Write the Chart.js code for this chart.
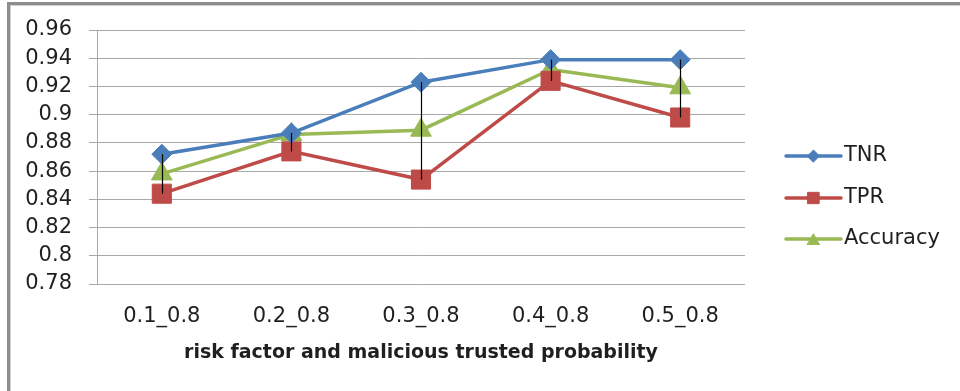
<!DOCTYPE html>
<html>
<head>
<meta charset="utf-8">
<script src="https://cdn.jsdelivr.net/npm/chart.js@4/dist/chart.umd.min.js"></script>
<style>
  html, body { margin: 0; padding: 0; background: #fff; }
  #wrap { position: relative; width: 960px; height: 391px; overflow: hidden; }
  #frame {
    position: absolute; left: 7px; top: 2px; width: 1000px; height: 450px;
    border-left: 3px solid #8c8c8c; border-top: 3px solid #8c8c8c;
    box-shadow: inset 1px 1px 0 #d0d0d0;
  }
  canvas { position: absolute; left: 0; top: 0; }
</style>
</head>
<body>
<div id="wrap">
  <div id="frame"></div>
  <canvas id="c" width="960" height="391"></canvas>
</div>
<script>
// Detection results per parameter pair
const categories = ['0.1_0.8', '0.2_0.8', '0.3_0.8', '0.4_0.8', '0.5_0.8'];
const tnr      = [0.872, 0.887, 0.923, 0.939, 0.939];
const tpr      = [0.844, 0.874, 0.854, 0.924, 0.898];
const accuracy = [0.858, 0.886, 0.889, 0.932, 0.919];
const yTicks   = [0.78, 0.8, 0.82, 0.84, 0.86, 0.88, 0.9, 0.92, 0.94, 0.96];
const xTitle   = 'risk factor and malicious trusted probability';

const FONT = "'DejaVu Sans', sans-serif";
const TEXT = '#1f1f1f';

const series = [
  { label: 'TNR', data: tnr, color: '#4A7EBB', style: 'rectRot', radius: 10, legendRadius: 6 },
  { label: 'TPR', data: tpr, color: '#BE4B48', style: 'rect', radius: 13.5, legendRadius: 8 },
  { label: 'Accuracy', data: accuracy, color: '#98B954', style: 'triangle', radius: 12, legendRadius: 7 }
];

// Black high-low lines joining the highest and lowest value of each category
const highLowLines = {
  id: 'highLowLines',
  afterDatasetsDraw(chart) {
    const { ctx, scales: { x, y } } = chart;
    ctx.save();
    ctx.strokeStyle = '#000';
    ctx.lineWidth = 1.2;
    categories.forEach((c, i) => {
      const vals = series.map(s => s.data[i]);
      const px = Math.round(x.getPixelForValue(i)) + 0.5;
      ctx.beginPath();
      ctx.moveTo(px, y.getPixelForValue(Math.max(...vals)));
      ctx.lineTo(px, y.getPixelForValue(Math.min(...vals)));
      ctx.stroke();
    });
    ctx.restore();
  }
};

// Legend on the right: line sample with marker, then the series name
const sideLegend = {
  id: 'sideLegend',
  afterDraw(chart) {
    const { ctx } = chart;
    const x0 = 786, x1 = 841, tx = 844;
    const rows = [156, 198, 239];
    ctx.save();
    series.forEach((s, i) => {
      const yy = rows[i];
      ctx.strokeStyle = s.color;
      ctx.lineWidth = 3.5;
      ctx.lineCap = 'round';
      ctx.beginPath();
      ctx.moveTo(x0, yy);
      ctx.lineTo(x1, yy);
      ctx.stroke();
      ctx.fillStyle = s.color;
      ctx.lineWidth = 1;
      Chart.helpers.drawPoint(ctx, { pointStyle: s.style, radius: s.legendRadius, borderWidth: 1 }, (x0 + x1) / 2, yy + (s.style === 'triangle' ? 2 : 0));
      ctx.fillStyle = TEXT;
      ctx.font = '21px ' + FONT;
      ctx.textBaseline = 'middle';
      ctx.textAlign = 'left';
      ctx.fillText(s.label, tx, yy);
    });
    ctx.restore();
  }
};

new Chart(document.getElementById('c'), {
  type: 'line',
  data: {
    labels: categories,
    datasets: series.map(s => ({
      label: s.label,
      data: s.data,
      borderColor: s.color,
      backgroundColor: s.color,
      borderWidth: 3.5,
      pointStyle: s.style,
      pointRadius: s.radius,
      pointHoverRadius: s.radius,
      pointBackgroundColor: s.color,
      pointBorderColor: s.color,
      pointBorderWidth: 1,
      tension: 0
    }))
  },
  options: {
    responsive: false,
    animation: false,
    events: [],
    layout: { padding: { left: 0, top: 30, right: 215, bottom: 0 } },
    plugins: { legend: { display: false }, tooltip: { enabled: false } },
    scales: {
      x: {
        offset: true,
        grid: { display: false, drawTicks: false },
        border: { display: false },
        ticks: { color: TEXT, font: { family: FONT, size: 21 }, padding: 20, maxRotation: 0 },
        title: {
          display: true, text: xTitle, color: TEXT,
          font: { family: FONT, size: 19, weight: 'bold' },
          padding: { top: 0, bottom: 27 }
        },
        afterFit(scale) { scale.height = 107; }
      },
      y: {
        min: 0.78, max: 0.96,
        afterBuildTicks(scale) { scale.ticks = yTicks.map(v => ({ value: v })); },
        grid: { color: '#a8a8a8', lineWidth: 1, drawTicks: true, tickLength: 8, tickColor: '#a8a8a8' },
        border: { display: true, color: '#a8a8a8', width: 1 },
        ticks: {
          color: TEXT, font: { family: FONT, size: 21 }, padding: 17,
          callback: v => String(Math.round(v * 100) / 100)
        },
        afterFit(scale) { scale.width = 97; }
      }
    }
  },
  plugins: [highLowLines, sideLegend]
});
</script>
</body>
</html>
